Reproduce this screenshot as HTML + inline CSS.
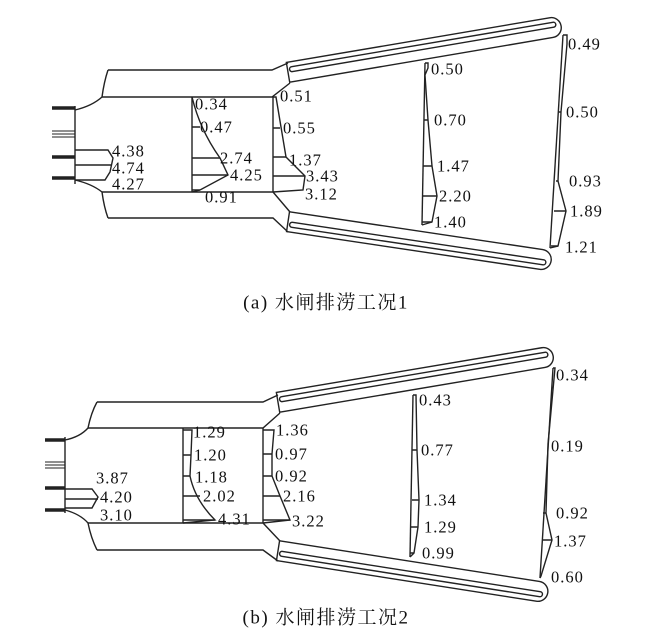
<!DOCTYPE html>
<html><head><meta charset="utf-8"><style>
html,body{margin:0;padding:0;background:#fff;width:650px;height:642px;overflow:hidden}
svg{display:block}
text{font-family:"Liberation Serif","Noto Serif CJK SC",serif;font-size:16.5px;letter-spacing:1px;fill:#111;stroke:none;dominant-baseline:central}
.cap{font-size:19px;letter-spacing:1.5px;font-family:"Liberation Serif","Noto Serif CJK SC",serif}
</style></head><body>
<svg width="650" height="642" viewBox="0 0 650 642" fill="none" stroke="#222" stroke-width="1.4">
<!-- ===== Panel A ===== -->
<g transform="translate(290,72) rotate(-9.64)">
 <path d="M-2,-10 H265 A10,10 0 0 1 265,10 H-2 Z" fill="#fff"/>
 <rect x="0" y="-5" width="270" height="5" rx="2.5"/>
</g>
<g transform="translate(290,222) rotate(8.48)">
 <path d="M-2,-10 H254 A10,10 0 0 1 254,10 H-2 Z" fill="#fff"/>
 <rect x="0" y="0" width="259" height="5" rx="2.5"/>
</g>
<path d="M108,70 L272,70 L288,63"/>
<path d="M102,97 L272,97 L290,83"/>
<path d="M102,192 L273,192 L290,212"/>
<path d="M108,218 L273,218 L288,232"/>
<path d="M75,110 Q92,106 102,97 Q104,82 108,70"/>
<path d="M75,180 Q92,184 102,192 Q104,207 108,218"/>
<path d="M75,106 L75,184"/>
<g stroke-width="3.5"><path d="M52,108 H75 M52,157 H75 M52,178 H75"/></g>
<path d="M52,131 H75 M52,134 H75 M52,137 H75" stroke-width="1"/>
<path d="M75,150 H108 L113,158 L110,172 L105,180 H75 M75,165 H112"/>
<path d="M192,97 V192"/>
<path d="M192,97 Q200,130 220,158 L228,175 L200,190 L192,192"/>
<path d="M192,127 H200 M192,158 H220 M192,175 H228 M192,190 H200"/>
<path d="M273,97 L273,192"/>
<path d="M273,97 L276,97 L286,157 L305,176 L303,190 L273,192"/>
<path d="M273,128 H280 M273,157 H286 M273,176 H305"/>
<path d="M425,63 L422,225"/>
<path d="M425,63 L428,63 L428,68 L425,75 L428,120 L432,166 L437,196 L432,222 L422,225"/>
<path d="M424,120 H428 M423,166 H432 M423,196 H437 M422,222 H432"/>
<path d="M563,35 L550,248"/>
<path d="M563,35 L567,35 L567,44 L561,112 L558,181 L566,211 L558,246 L550,248"/>
<path d="M559,112 H561 M556,181 H558 M554,211 H566 M551,246 H558"/>
<text x="112" y="151">4.38</text><text x="112" y="168">4.74</text><text x="112" y="184">4.27</text>
<text x="195" y="104">0.34</text><text x="200" y="127">0.47</text><text x="220" y="158">2.74</text><text x="230" y="175">4.25</text><text x="205" y="197">0.91</text>
<text x="280" y="96">0.51</text><text x="283" y="128">0.55</text><text x="289" y="160">1.37</text><text x="306" y="176">3.43</text><text x="305" y="194">3.12</text>
<text x="431" y="69">0.50</text><text x="434" y="120">0.70</text><text x="437" y="166">1.47</text><text x="439" y="196">2.20</text><text x="434" y="222">1.40</text>
<text x="568" y="44">0.49</text><text x="566" y="112">0.50</text><text x="569" y="181">0.93</text><text x="570" y="211">1.89</text><text x="565" y="247">1.21</text>
<text class="cap" x="326" y="303" text-anchor="middle">(a) 水闸排涝工况1</text>

<!-- ===== Panel B ===== -->
<g transform="translate(280,402) rotate(-9.57)">
 <path d="M-2,-10 H267 A10,10 0 0 1 267,10 H-2 Z" fill="#fff"/>
 <rect x="0" y="-5" width="272" height="5" rx="2.5"/>
</g>
<g transform="translate(280,551) rotate(8.89)">
 <path d="M-2,-10 H261 A10,10 0 0 1 261,10 H-2 Z" fill="#fff"/>
 <rect x="0" y="0" width="266" height="5" rx="2.5"/>
</g>
<path d="M97,402 L263,402 L278,395"/>
<path d="M88,428 L263,428 L280,413"/>
<path d="M88,523 L263,523 L280,541"/>
<path d="M97,550 L263,550 L278,561"/>
<path d="M65,440 Q80,437 88,428 Q91,413 97,402"/>
<path d="M65,510 Q80,514 88,523 Q91,538 97,550"/>
<path d="M65,437 V513"/>
<g stroke-width="3.5"><path d="M45,440 H65 M45,488 H65 M45,510 H65"/></g>
<path d="M45,462 H65 M45,465 H65 M45,468 H65" stroke-width="1"/>
<path d="M65,489 H92 L98,497 L92,508 H65 M65,499 H98"/>
<path d="M183,428 V523"/>
<path d="M183,430 H192 L191,455 L190,476 Q195,500 215,520 L183,523"/>
<path d="M183,455 H191 M183,476 H190 M183,496 H200 M183,520 H215"/>
<path d="M263,428 V523"/>
<path d="M263,430 H274 L272,454 L272,476 L280,496 L290,520 L263,523"/>
<path d="M263,454 H272 M263,476 H272 M263,496 H280 M263,520 H290"/>
<path d="M413,395 L410,557"/>
<path d="M413,395 L416,395 L417,450 L419,500 L418,527 L414,553 L410,557"/>
<path d="M412,450 H417 M412,500 H419 M411,527 H418 M410,553 H414"/>
<path d="M553,368 L540,578"/>
<path d="M553,368 L555,368 L548,444 L546,513 L552,540 L541,576 L540,578"/>
<path d="M543,513 H546 M542,540 H552"/>
<text x="193" y="432">1.29</text><text x="194" y="455">1.20</text><text x="195" y="477">1.18</text><text x="203" y="496">2.02</text><text x="218" y="519">4.31</text>
<text x="276" y="430">1.36</text><text x="275" y="454">0.97</text><text x="275" y="476">0.92</text><text x="283" y="496">2.16</text><text x="292" y="521">3.22</text>
<text x="96" y="478">3.87</text><text x="100" y="497">4.20</text><text x="100" y="515">3.10</text>
<text x="419" y="400">0.43</text><text x="421" y="450">0.77</text><text x="424" y="500">1.34</text><text x="424" y="527">1.29</text><text x="422" y="553">0.99</text>
<text x="556" y="375">0.34</text><text x="551" y="446">0.19</text><text x="556" y="513">0.92</text><text x="554" y="541">1.37</text><text x="551" y="577">0.60</text>
<text class="cap" x="326" y="618" text-anchor="middle">(b) 水闸排涝工况2</text>
</svg>
</body></html>
